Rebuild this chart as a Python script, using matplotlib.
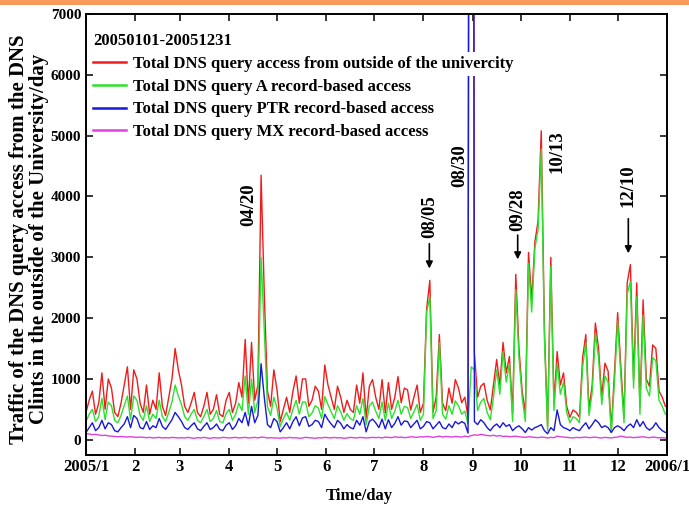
import matplotlib
matplotlib.use('Agg')
import matplotlib.pyplot as plt
from matplotlib.patches import Rectangle
import numpy as np

# daily DNS query counts, read every 2nd day (day 0 = 2005/01/01)
days = np.arange(0, 365, 2)

total_access = [
    450, 650, 800, 420, 600, 1100, 500, 1000, 850, 450, 380, 600, 900, 1200, 500, 1150,   # Jan
    1000, 600, 450, 900, 420, 650, 500, 1100, 550, 400, 700, 1000, 1500, 1150,            # Feb
    900, 550, 450, 600, 780, 450, 380, 550, 780, 420, 500, 740, 420, 380, 650,            # Mar
    780, 450, 600, 940, 700, 1650, 600, 1600, 650, 900, 4350, 2400, 800, 550, 1150,       # Apr
    820, 300, 500, 700, 450, 800, 1050, 600, 1000, 1000, 550, 650, 880, 800, 500, 1230,   # May
    900, 700, 500, 880, 700, 450, 650, 500, 450, 900, 600, 1100, 350, 880, 990,           # Jun
    700, 500, 990, 440, 940, 500, 700, 1040, 610, 850, 820, 490, 700, 900, 450,           # Jul
    600, 2150, 2620, 450, 700, 1730, 600, 480, 850, 600, 990, 850, 610, 700, 370, 41500,  # Aug
    1430, 700, 880, 930, 650, 490, 900, 1320, 900, 1600, 1100, 1370, 440, 2720, 1500,     # Sep
    800, 440, 3080, 2300, 3250, 3600, 5080, 1800, 220, 3000, 600, 1450, 900, 1100, 550,   # Oct
    370, 490, 450, 370, 1350, 1730, 500, 900, 1920, 1500, 700, 1260, 1130, 165, 1100,     # Nov
    2090, 1200, 370, 2580, 2880, 1000, 2580, 540, 2300, 1000, 880, 1560, 1500, 800, 700, 550,  # Dec
]

a_record = [
    300, 420, 500, 300, 380, 680, 330, 620, 560, 320, 280, 400, 560, 720, 330, 720,
    650, 400, 320, 560, 300, 420, 350, 650, 380, 300, 450, 620, 900, 720,
    580, 380, 320, 420, 500, 320, 280, 380, 500, 300, 350, 480, 300, 280, 430,
    500, 320, 420, 600, 480, 1050, 420, 1000, 450, 650, 3000, 1800, 550, 400, 700,
    520, 220, 350, 450, 320, 500, 650, 420, 620, 620, 380, 440, 560, 520, 350, 710,
    580, 460, 350, 560, 460, 320, 430, 350, 320, 560, 420, 680, 250, 560, 620,
    470, 350, 620, 320, 600, 350, 470, 650, 420, 550, 530, 350, 460, 580, 320,
    420, 2100, 2350, 350, 480, 1600, 420, 340, 560, 420, 640, 560, 420, 470, 260, 1200,
    1150, 480, 620, 680, 450, 330, 700, 1150, 750, 1450, 950, 1250, 300, 2470, 1350,
    700, 300, 2900, 2100, 3150, 3450, 4780, 1650, 150, 2850, 480, 1250, 750, 950, 450,
    280, 380, 350, 280, 1200, 1600, 400, 780, 1750, 1350, 580, 1050, 950, 120, 950,
    1950, 1050, 280, 2400, 2600, 850, 2350, 420, 2050, 850, 720, 1350, 1300, 650, 550, 420,
]

ptr_record = [
    120, 200, 280, 150, 200, 320, 180, 280, 250, 150, 130, 200, 260, 380, 200, 400,
    350, 200, 180, 300, 170, 230, 200, 350, 220, 170, 250, 330, 450, 380,
    300, 200, 170, 230, 280, 180, 150, 220, 280, 170, 200, 260, 170, 150, 240,
    280, 170, 230, 350, 280, 450, 230, 550, 280, 400, 1250, 700, 250, 200, 350,
    300, 130, 200, 280, 180, 300, 380, 230, 360, 380, 220, 250, 320, 300, 200, 420,
    330, 260, 200, 320, 270, 180, 250, 200, 180, 320, 240, 380, 130, 300, 340,
    280, 200, 340, 180, 330, 200, 270, 380, 240, 310, 300, 200, 260, 320, 180,
    220, 300, 280, 180, 240, 300, 200, 180, 260, 200, 300, 260, 300, 270, 110, 40000,
    300, 250, 330, 280, 200, 150, 220, 260, 200, 280, 220, 250, 150, 200, 230,
    180, 120, 200, 160, 200, 220, 250, 150, 100, 200, 150, 490, 250, 200, 180,
    150, 200, 170, 150, 220, 280, 180, 250, 330, 280, 200, 230, 200, 120, 200,
    230, 200, 150, 220, 260, 200, 330, 220, 300, 200, 160, 200, 280, 200, 150, 120,
]

mx_record = [
    100, 95, 85, 90, 80, 70, 75, 65, 60, 55, 50, 55, 50, 45, 50, 45,
    40, 45, 40, 35, 40, 30, 35, 40, 30, 35, 30, 40, 35, 30,
    35, 30, 40, 30, 25, 35, 30, 40, 30, 25, 35, 30, 30, 40, 35,
    30, 35, 40, 30, 35, 40, 30, 35, 40, 30, 45, 40, 30, 35, 30,
    30, 25, 35, 30, 40, 30, 35, 25, 30, 40, 35, 30, 25, 35, 30, 40,
    35, 30, 40, 30, 35, 25, 30, 40, 35, 30, 40, 35, 30, 35, 40,
    35, 40, 30, 45, 40, 35, 50, 40, 45, 35, 40, 50, 45, 40, 50,
    45, 55, 50, 40, 50, 60, 45, 55, 50, 45, 55, 50, 45, 60, 50, 70,
    80, 75, 90, 80, 70, 65, 75, 60, 70, 55, 60, 50, 55, 60, 50,
    45, 40, 50, 45, 40, 35, 45, 40, 30, 40, 35, 60, 50, 45, 40,
    35, 30, 40, 35, 40, 45, 35, 40, 45, 35, 30, 40, 35, 30, 40,
    45, 60, 50, 40, 45, 35, 40, 45, 50, 40, 35, 45, 40, 30, 35, 30,
]

month_starts = [0, 31, 59, 90, 120, 151, 181, 212, 243, 273, 304, 334, 365]
month_labels = ['2005/1', '2', '3', '4', '5', '6', '7', '8', '9', '10', '11', '12', '2006/1']

# (label, day, y of text, y of arrow tail, y of arrow head) ; None = no arrow
events = [
    ('04/20', 102.0, 3860, None, None),
    ('08/05', 215.7, 3670, 3270, 2770),
    ('08/30', 234.5, 4500, None, None),
    ('09/28', 271.2, 3790, 3410, 2920),
    ('10/13', 295.8, 4730, None, None),
    ('12/10', 340.7, 4170, 3680, 3020),
]

plt.rcParams['font.family'] = ['Liberation Serif', 'DejaVu Serif']
plt.rcParams['font.weight'] = 'bold'

fig = plt.figure(figsize=(6.89, 5.07), dpi=100)
ax = fig.add_axes([86/689, 1 - 455/507, (667 - 86)/689, (455 - 14)/507])

# slide decoration band on top
fig.add_artist(Rectangle((0, 1 - 5/507), 1, 5/507, transform=fig.transFigure,
                         facecolor='#f79a5c', edgecolor='none'))

ax.plot(days, total_access, color='#f01c1c', lw=1.0,
        label='Total DNS query access from outside of the univercity')
ax.plot(days, a_record, color='#2de02d', lw=1.0,
        label='Total DNS query A record-based access')
ax.plot(days, ptr_record, color='#1818d8', lw=1.0,
        label='Total DNS query PTR record-based access')
ax.plot(days, mx_record, color='#e040e0', lw=1.0,
        label='Total DNS query MX record-based access')

ax.set_xlim(0, 365)
ax.set_ylim(-250, 7000)
ax.set_xticks(month_starts)
ax.set_xticklabels(month_labels)
ax.set_yticks(range(0, 7001, 1000))
ax.tick_params(direction='in', top=True, right=True, length=5, width=1.1)
ax.tick_params(axis='x', pad=3, labelsize=12)
ax.tick_params(axis='y', pad=3.5, labelsize=11)
for s in ax.spines.values():
    s.set_linewidth(1.4)

for name, d, ty, y0, y1 in events:
    ax.text(d, ty, name, rotation=90, ha='center', va='center', fontsize=13.5)
    if y0 is not None:
        ax.annotate('', xy=(d, y1), xytext=(d, y0),
                    arrowprops=dict(arrowstyle='-|>', color='black', lw=1.2, mutation_scale=10))

ax.set_ylabel('Traffic of the DNS query access from the DNS\nClints in the outside of the University/day',
              fontsize=15, fontweight='bold', linespacing=1.0)
ax.yaxis.set_label_coords(-0.064, 0.49)
ax.set_xlabel('Time/day', fontsize=12, fontweight='bold')
ax.xaxis.set_label_coords(0.47, -0.075)

leg = ax.legend(loc='upper left', bbox_to_anchor=(0.012, 0.956), frameon=False,
                title='20050101-20051231', alignment='left', fontsize=12,
                title_fontproperties={'weight': 'bold', 'size': 12},
                handlelength=2.0, handletextpad=0.4, labelspacing=0.4,
                borderpad=0, borderaxespad=0)
for h in leg.legend_handles:
    h.set_linewidth(1.8)
leg.get_texts()[0].set_bbox(dict(facecolor='white', edgecolor='none', pad=3))

plt.savefig('out.png', dpi=100)
